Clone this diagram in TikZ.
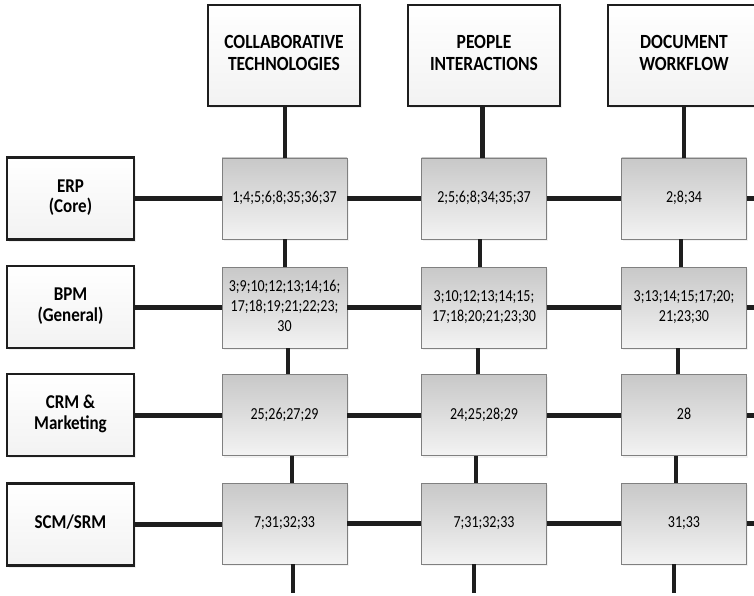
\documentclass[tikz,border=0pt]{standalone}
\usepackage{fontspec}
\setmainfont{Carlito}
\usetikzlibrary{shadows}

\definecolor{ink}{HTML}{1E1E1E}
\definecolor{celltop}{HTML}{C8C8C8}
\definecolor{cellbot}{HTML}{F3F3F3}
\definecolor{cellrim}{HTML}{808080}

% text set slightly taller than wide, lines centred
\newcommand\stretchtext[2][1.2]{\scalebox{1}[#1]{\begin{tabular}{@{}c@{}}#2\end{tabular}}}

\tikzset{
  hdrbox/.style={draw=ink, line width=2.6pt, top color=white, bottom color=black!5,
    minimum width=152pt, minimum height=101pt, inner sep=0pt,
    font=\bfseries\fontsize{17.5}{19.2}\selectfont,
    drop shadow={opacity=0.12, shadow xshift=1.5pt, shadow yshift=-2pt}},
  rowbox/.style={hdrbox, minimum width=127pt, minimum height=82pt,
    font=\bfseries\fontsize{17}{17.5}\selectfont},
  cellbox/.style={draw=cellrim, line width=0.8pt, top color=celltop, bottom color=cellbot,
    minimum width=125pt, minimum height=81pt, inner sep=0pt,
    font=\fontsize{14}{16.7}\selectfont,
    drop shadow={opacity=0.10, shadow xshift=1.5pt, shadow yshift=-2pt}},
  hlink/.style={draw=ink, line width=5pt},
  vlink/.style={draw=ink, line width=4.3pt}
}

\begin{document}
\begin{tikzpicture}[x=1pt,y=-1pt]
\useasboundingbox (0,0) rectangle (754,596);

% column headers (the last one runs past the right edge)
\node[hdrbox] (h1) at (284,55.5) {\stretchtext[1.15]{COLLABORATIVE\\TECHNOLOGIES}};
\node[hdrbox] (h2) at (484,55.5) {\stretchtext[1.15]{PEOPLE\\INTERACTIONS}};
\node[hdrbox] (h3) at (684,55.5) {\stretchtext[1.15]{DOCUMENT\\WORKFLOW}};

% row headers
\node[rowbox] (r1) at (70.5,198.5) {\stretchtext[1.15]{ERP\\(Core)}};
\node[rowbox] (r2) at (70.5,307) {\stretchtext[1.15]{BPM\\(General)}};
\node[rowbox] (r3) at (70.5,415) {\stretchtext[1.15]{CRM \&\\Marketing}};
\node[rowbox] (r4) at (70.5,524.5) {\stretchtext[1.15]{SCM/SRM}};

% matrix cells
\node[cellbox] (c11) at (284.5,198.5) {\stretchtext{1;4;5;6;8;35;36;37}};
\node[cellbox] (c12) at (484,198.5) {\stretchtext{2;5;6;8;34;35;37}};
\node[cellbox] (c13) at (684,198.5) {\stretchtext{2;8;34}};

\node[cellbox] (c21) at (284.5,307.5) {\stretchtext{3;9;10;12;13;14;16;\\17;18;19;21;22;23;\\30}};
\node[cellbox] (c22) at (484,307.5) {\stretchtext{3;10;12;13;14;15;\\17;18;20;21;23;30}};
\node[cellbox] (c23) at (684,307.5) {\stretchtext{3;13;14;15;17;20;\\21;23;30}};

\node[cellbox] (c31) at (284.5,415) {\stretchtext{25;26;27;29}};
\node[cellbox] (c32) at (484,415) {\stretchtext{24;25;28;29}};
\node[cellbox] (c33) at (684,415) {\stretchtext{28}};

\node[cellbox] (c41) at (284.5,523.5) {\stretchtext{7;31;32;33}};
\node[cellbox] (c42) at (484,523.5) {\stretchtext{7;31;32;33}};
\node[cellbox] (c43) at (684,523.5) {\stretchtext{31;33}};

% free ends at the right and bottom edges
\coordinate (e1) at (754,198.5);
\coordinate (e2) at (754,307.5);
\coordinate (e3) at (754,415);
\coordinate (e4) at (754,523.5);
\coordinate (b1) at (293,593);
\coordinate (b2) at (474,593);
\coordinate (b3) at (674,593);

% horizontal links
\foreach \r in {1,2,3,4}{
  \draw[hlink] (r\r.east) -- (r\r.east -| c\r1.west);
  \draw[hlink] (c\r1.east) -- (c\r2.west);
  \draw[hlink] (c\r2.east) -- (c\r3.west);
  \draw[hlink] (c\r3.east) -- (e\r);
}

% vertical links, column 1
\draw[vlink] ([xshift=0.5pt]c11.north) -- ([xshift=0.5pt]c11.north |- h1.south);
\draw[vlink] ([xshift=0.5pt]c11.south) -- ([xshift=0.5pt]c21.north);
\draw[vlink] ([xshift=3.5pt]c21.south) -- ([xshift=3.5pt]c31.north);
\draw[vlink] ([xshift=7.5pt]c31.south) -- ([xshift=7.5pt]c41.north);
\draw[vlink] (c41.south -| b1) -- (b1);

% vertical links, column 2
\draw[vlink] ([xshift=-1.5pt]c12.north) -- ([xshift=-1.5pt]c12.north |- h2.south);
\draw[vlink] ([xshift=-4pt]c12.south) -- ([xshift=-4pt]c22.north);
\draw[vlink] ([xshift=-6pt]c22.south) -- ([xshift=-6pt]c32.north);
\draw[vlink] ([xshift=-8pt]c32.south) -- ([xshift=-8pt]c42.north);
\draw[vlink] (c42.south -| b2) -- (b2);

% vertical links, column 3
\draw[vlink] ([xshift=0pt]c13.north) -- ([xshift=0pt]c13.north |- h3.south);
\draw[vlink] ([xshift=-3pt]c13.south) -- ([xshift=-3pt]c23.north);
\draw[vlink] ([xshift=-6pt]c23.south) -- ([xshift=-6pt]c33.north);
\draw[vlink] ([xshift=-8pt]c33.south) -- ([xshift=-8pt]c43.north);
\draw[vlink] (c43.south -| b3) -- (b3);
\end{tikzpicture}
\end{document}
